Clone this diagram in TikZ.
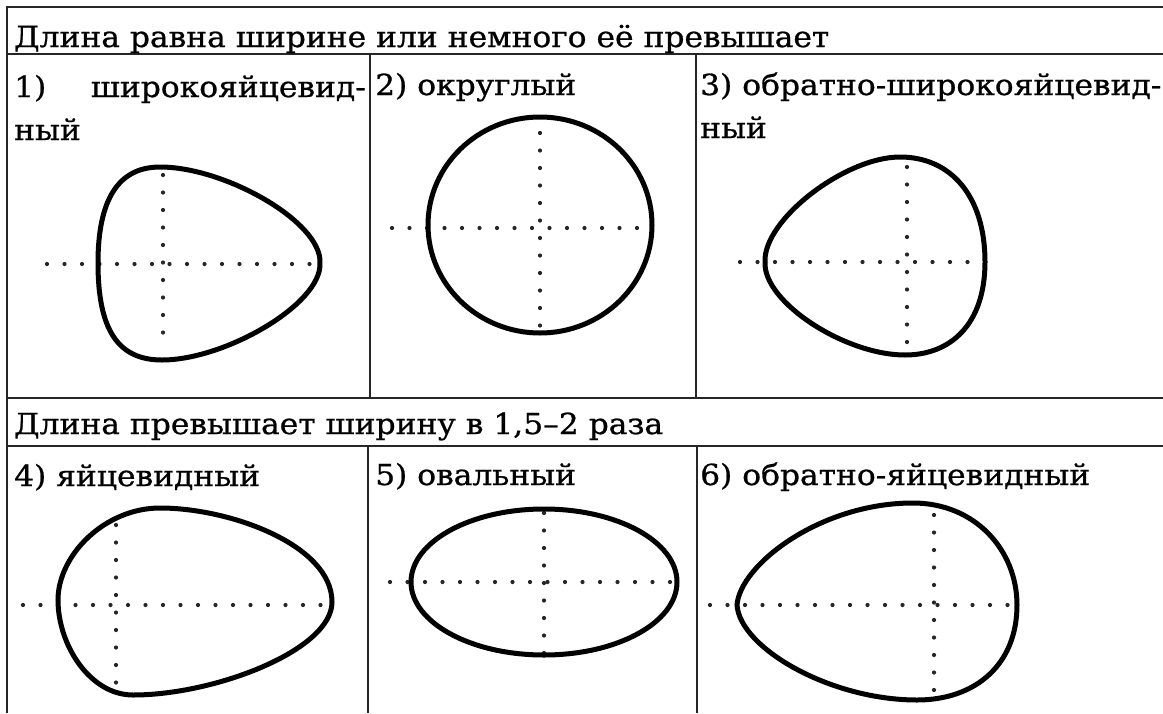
\documentclass[tikz,border=0pt]{standalone}
\usepackage{fontspec}
\setmainfont[FakeStretch=1.08,FakeBold=0.8]{DejaVu Serif}
\begin{document}
\begin{tikzpicture}[x=1pt,y=-1pt,
  grid/.style={line width=1.8pt,black!85},
  leaf/.style={line width=5pt,black},
  axis/.style={line width=4.2pt,line cap=round,dash pattern=on 0pt off 17.5pt,black!85},
  lbl/.style={anchor=base west,inner sep=0pt,font=\fontsize{29}{32}\selectfont},
  lblr/.style={anchor=base east,inner sep=0pt,font=\fontsize{29}{32}\selectfont}]
\useasboundingbox (0,0) rectangle (1163,713);
\fill[white] (0,0) rectangle (1163,713);
% table lines
\draw[grid] (1163,7) -- (7,7) -- (7,713);
\draw[grid] (7,54) -- (1163,54);
\draw[grid] (7,398) -- (1163,398);
\draw[grid] (7,446) -- (1163,446);
\draw[grid] (370,54) -- (370,398);
\draw[grid] (696,54) -- (696,398);
\draw[grid] (368,446) -- (368,713);
\draw[grid] (697,446) -- (697,713);
% texts
\node[lbl] (h1) at (14,47) {Длина равна ширине или немного её превышает};
\node[lbl] (n1) at (14,97) {1)};
\node[lblr] (t1) at (366,97) {широкояйцевид-};
\node[lbl] (t1b) at (14,140) {ный};
\node[lbl] (t2) at (375,95) {2) округлый};
\node[lbl] (t3) at (700,95) {3) обратно-широкояйцевид-};
\node[lbl] (t3b) at (700,138) {ный};
\node[lbl] (h2) at (14,434) {Длина превышает ширину в 1,5–2 раза};
\node[lbl] (t4) at (14,486) {4) яйцевидный};
\node[lbl] (t5) at (375,485) {5) овальный};
\node[lbl] (t6) at (700,485) {6) обратно-яйцевидный};
% axes
\draw[axis] (47,264) -- (316,264);
\draw[axis] (163,175) -- (163,348);
\draw[axis] (392,228) -- (645,228);
\draw[axis] (540,133) -- (540,327);
\draw[axis] (740,262) -- (982,262);
\draw[axis] (907,167) -- (907,347);
\draw[axis] (23,605) -- (328,605);
\draw[axis] (116,525) -- (116,683);
\draw[axis] (390,582) -- (670,582);
\draw[axis] (544,513) -- (544,655);
\draw[axis] (710,605) -- (1015,605);
\draw[axis] (934,515) -- (934,690);
% shapes
\draw[leaf] (320,263) .. controls (322,222) and (225,167) .. (160,167)
  .. controls (118,167) and (98,200) .. (98,263)
  .. controls (98,330) and (118,360) .. (162,360)
  .. controls (225,360) and (322,304) .. cycle;
\draw[leaf] (540,225) ellipse [x radius=112, y radius=108];
\draw[leaf] (765,262) .. controls (763,220) and (845,157) .. (900,157)
  .. controls (950,157) and (985,195) .. (985,262)
  .. controls (985,325) and (950,355) .. (905,355)
  .. controls (845,355) and (763,302) .. cycle;
\draw[leaf] (58,600) .. controls (58,555) and (105,508) .. (160,508)
  .. controls (230,508) and (332,545) .. (332,602)
  .. controls (332,650) and (215,695) .. (133,695)
  .. controls (90,695) and (58,645) .. cycle;
\draw[leaf] (544,582) ellipse [x radius=133, y radius=73];
\draw[leaf] (737,605) .. controls (740,565) and (820,503) .. (913,503)
  .. controls (975,503) and (1017,550) .. (1017,605)
  .. controls (1017,665) and (975,700) .. (917,700)
  .. controls (830,700) and (740,648) .. cycle;
\end{tikzpicture}
\end{document}
